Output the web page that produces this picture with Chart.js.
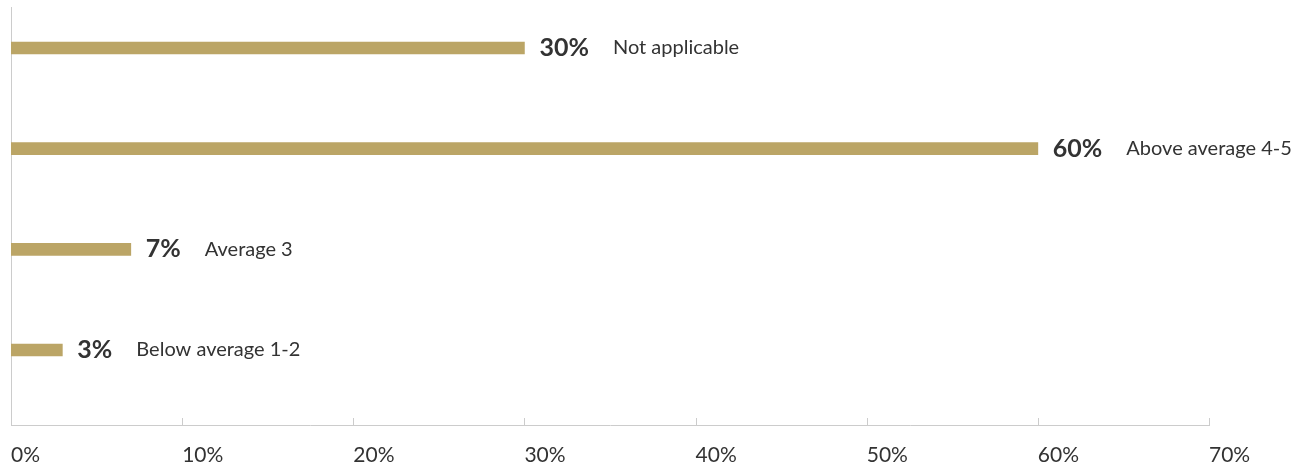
<!DOCTYPE html>
<html>
<head>
<meta charset="utf-8">
<script src="https://cdn.jsdelivr.net/npm/chart.js@4/dist/chart.umd.min.js"></script>
<style>
  html, body { margin: 0; padding: 0; background: #ffffff; }
  #wrap { width: 1295px; height: 467px; position: relative; }
</style>
</head>
<body>
<div id="wrap"><canvas id="chart"></canvas></div>
<script>
// Survey rating breakdown
const categories = ['Not applicable', 'Above average 4-5', 'Average 3', 'Below average 1-2'];
const shares = [30, 60, 7, 3];            // percent of respondents
const tickValues = [0, 10, 20, 30, 40, 50, 60, 70];

const BAR_COLOR = '#bba566';
const TEXT_COLOR = '#333333';
const AXIS_COLOR = '#cccccc';
const FONT = 'Lato, "Noto Sans", sans-serif';

// Writes the bold percentage and the category name just past the end of each bar
const barLabels = {
  id: 'barLabels',
  afterDatasetsDraw(chart) {
    const { ctx } = chart;
    const meta = chart.getDatasetMeta(0);
    ctx.save();
    ctx.textBaseline = 'middle';
    ctx.textAlign = 'left';
    meta.data.forEach((bar, i) => {
      const x = bar.x + 15;
      const y = bar.y;
      const valueText = shares[i] + '%';
      ctx.font = 'bold 25px ' + FONT;
      ctx.fillStyle = TEXT_COLOR;
      ctx.fillText(valueText, x, y);
      const w = ctx.measureText(valueText).width;
      ctx.font = '20px ' + FONT;
      ctx.fillText(categories[i], x + w + 24, y);
    });
    ctx.restore();
  }
};

// Short tick marks rising from the x axis at each gridline value
const innerTicks = {
  id: 'innerTicks',
  afterDraw(chart) {
    const { ctx, chartArea } = chart;
    const xs = chart.scales.x;
    ctx.save();
    ctx.strokeStyle = AXIS_COLOR;
    ctx.lineWidth = 1;
    tickValues.slice(1).forEach(v => {
      const px = Math.round(xs.getPixelForValue(v)) + 0.5;
      ctx.beginPath();
      ctx.moveTo(px, chartArea.bottom - 7);
      ctx.lineTo(px, chartArea.bottom);
      ctx.stroke();
    });
    ctx.restore();
  }
};

new Chart(document.getElementById('chart'), {
  type: 'bar',
  data: {
    datasets: [{
      data: categories.map((c, i) => ({ x: shares[i], y: i })),
      backgroundColor: BAR_COLOR,
      borderWidth: 0,
      barThickness: 12
    }]
  },
  options: {
    indexAxis: 'y',
    responsive: true,
    maintainAspectRatio: false,
    animation: false,
    layout: { padding: { top: 7, left: 11, right: 86, bottom: 0 } },
    plugins: {
      legend: { display: false },
      tooltip: { enabled: false }
    },
    scales: {
      x: {
        type: 'linear',
        min: 0,
        max: 70,
        afterBuildTicks(scale) { scale.ticks = tickValues.map(v => ({ value: v })); },
        afterFit(scale) { scale.height = 42; scale.paddingLeft = 0; },
        grid: { display: false, drawTicks: false },
        border: { display: true, color: AXIS_COLOR, width: 1 },
        ticks: {
          align: 'start',
          padding: 18,
          color: TEXT_COLOR,
          font: { family: FONT, size: 21 },
          callback: v => v + '%'
        }
      },
      y: {
        type: 'linear',
        reverse: true,
        offset: false,
        min: -0.407,
        max: 3.745,
        grid: { display: false, drawTicks: false },
        border: { display: true, color: AXIS_COLOR, width: 1 },
        ticks: { display: false },
        afterFit(scale) { scale.width = 0; }
      }
    }
  },
  plugins: [barLabels, innerTicks]
});
</script>
</body>
</html>
